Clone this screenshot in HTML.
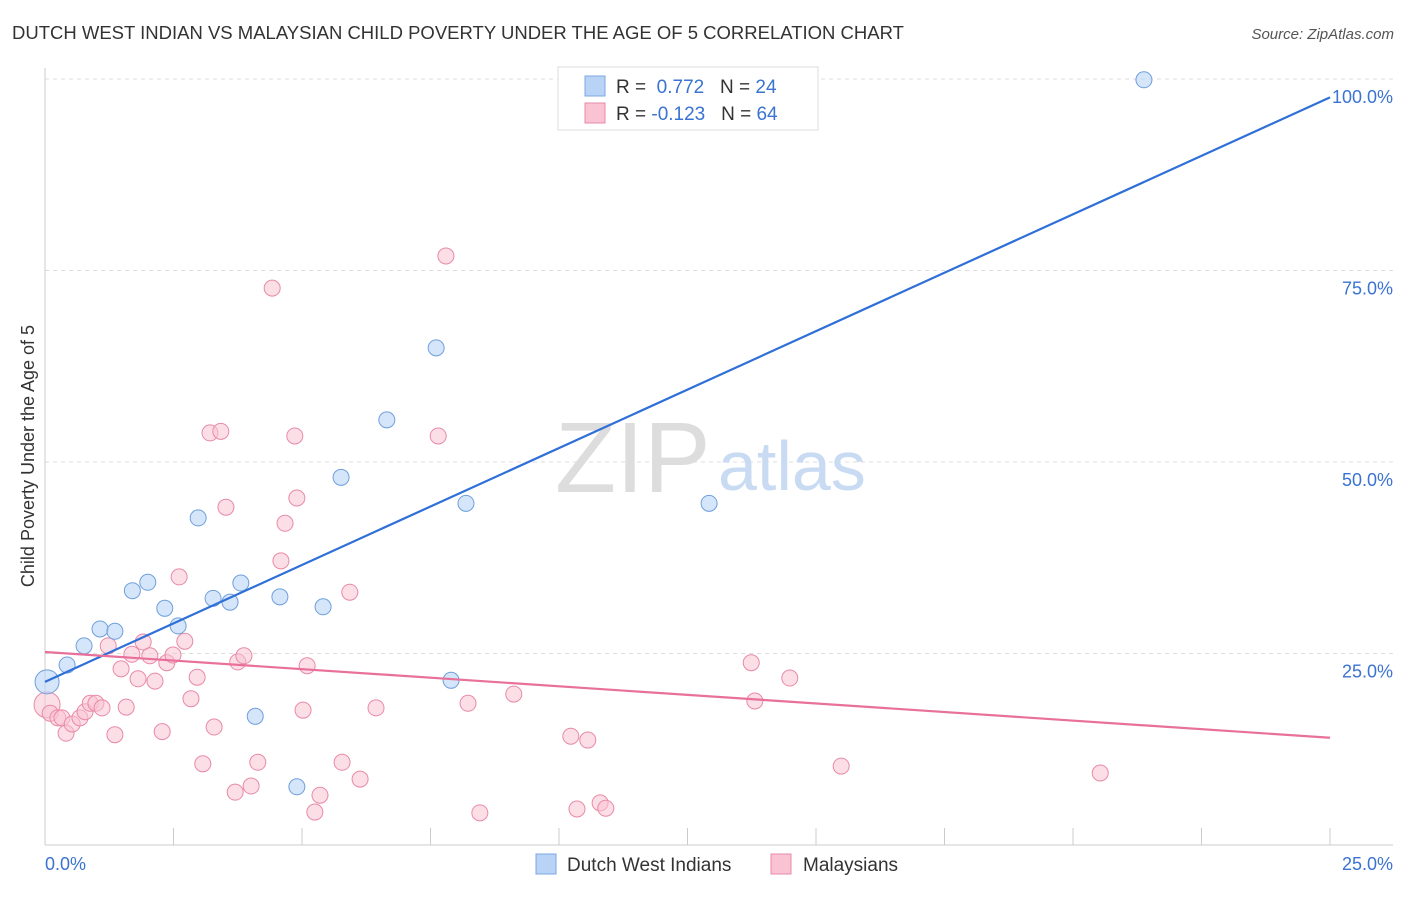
<!DOCTYPE html>
<html><head><meta charset="utf-8"><style>
body{margin:0;background:#fff;font-family:"Liberation Sans",sans-serif}
svg text{font-family:"Liberation Sans",sans-serif}
</style></head><body>
<svg id="c" width="1406" height="892" viewBox="0 0 1406 892" xmlns="http://www.w3.org/2000/svg">
<text x="12" y="39" font-size="18.5" fill="#333">DUTCH WEST INDIAN VS MALAYSIAN CHILD POVERTY UNDER THE AGE OF 5 CORRELATION CHART</text>
<text x="1394" y="39" font-size="15" fill="#555" text-anchor="end" font-style="italic">Source: ZipAtlas.com</text>
<text x="34" y="456" font-size="18" fill="#333" text-anchor="middle" transform="rotate(-90 34 456)">Child Poverty Under the Age of 5</text>
<g id="grid"></g>
<g id="ticks"></g>
<text x="555" y="492" font-size="100" fill="#ddd" font-family="Liberation Serif">ZIP</text>
<text x="718" y="490" font-size="70" fill="#c9dbf3">atlas</text>
<g id="pts"></g>
<g id="lines"></g>
<g>
<rect x="558" y="67" width="260" height="63" fill="#fff" stroke="#ddd"/>
<rect x="585" y="76" width="20" height="20" fill="#b9d3f6" stroke="#7ba7e0"/>
<rect x="585" y="103" width="20" height="20" fill="#f9c3d3" stroke="#e88aa8"/>
<text x="616" y="93" font-size="19" fill="#333">R = <tspan fill="#3a73d1">&#160;0.772</tspan>&#160;&#160;&#160;N = <tspan fill="#3a73d1">24</tspan></text>
<text x="616" y="120" font-size="19" fill="#333">R = <tspan fill="#3a73d1">-0.123</tspan>&#160;&#160;&#160;N = <tspan fill="#3a73d1">64</tspan></text>
</g>
<g>
<rect x="536" y="854" width="20" height="20" fill="#b9d3f6" stroke="#7ba7e0"/>
<text x="567" y="871" font-size="19" fill="#333">Dutch West Indians</text>
<rect x="771" y="854" width="20" height="20" fill="#f9c3d3" stroke="#e88aa8"/>
<text x="803" y="871" font-size="19" fill="#333">Malaysians</text>
</g>
</svg>
<script>
const xTickLabels=["0.0%","25.0%"];
const yTicks=[25,50,75,100];
const yTickLabels=["25.0%","50.0%","75.0%","100.0%"];
const blueX=[0.04,0.43,0.76,1.07,1.36,1.70,2.00,2.33,2.59,2.98,3.27,3.60,3.81,4.09,4.57,4.90,5.41,5.76,6.65,7.61,7.90,8.19,12.92,21.38];
const blueY=[21.3,23.5,26.0,28.2,27.9,33.2,34.3,30.9,28.6,42.7,32.2,31.7,34.2,16.8,32.4,7.6,31.1,48.0,55.5,64.9,21.5,44.6,44.6,99.9];
const pinkX=[0.04,0.10,0.25,0.33,0.41,0.53,0.68,0.78,0.88,0.99,1.11,1.23,1.36,1.48,1.58,1.69,1.81,1.91,2.04,2.14,2.28,2.37,2.49,2.61,2.72,2.84,2.96,3.07,3.21,3.29,3.42,3.52,3.70,3.75,3.87,4.01,4.14,4.42,4.59,4.67,4.86,4.90,5.02,5.10,5.25,5.35,5.78,5.93,6.13,6.44,7.65,7.80,8.23,8.46,9.12,10.23,10.35,10.56,10.80,10.91,13.74,13.81,14.49,15.49,20.53];
const pinkY=[18.3,17.2,16.6,16.6,14.6,15.8,16.6,17.4,18.5,18.5,17.9,26.0,14.4,23.0,18.0,24.9,21.7,26.5,24.7,21.4,14.8,23.8,24.8,35.0,26.6,19.1,21.9,10.6,53.8,15.4,54.0,44.1,6.9,23.9,24.7,7.7,10.8,72.7,37.1,42.0,53.4,45.3,17.6,23.4,4.3,6.5,10.8,33.0,8.6,17.9,53.4,76.9,18.5,4.2,19.7,14.2,4.7,13.7,5.5,4.8,23.8,18.8,21.8,10.3,9.4];
const blueTrend=[21.3,97.6];
const pinkTrend=[25.2,14.0];
const NS="http://www.w3.org/2000/svg";
const X=v=>45+v/25*1285, Y=v=>845-v*7.66;
function mk(t,a,p){const e=document.createElementNS(NS,t);for(const k in a)e.setAttribute(k,a[k]);p.appendChild(e);return e;}
const grid=document.getElementById('grid'),ticks=document.getElementById('ticks');
yTicks.forEach((v,i)=>{
 const l=mk('line',{x1:45,x2:1393,y1:Y(v),y2:Y(v),stroke:'#ddd','stroke-dasharray':'4 4'},grid);
 
 
 const t=mk('text',{x:1393,y:Y(v)+24,'font-size':18,fill:'#3a73d1','text-anchor':'end'},ticks);
 t.textContent=yTickLabels[i];
 
 
});
mk('line',{x1:45,x2:45,y1:68,y2:845,stroke:'#ccc'},grid);
mk('line',{x1:45,x2:1393,y1:845,y2:845,stroke:'#ccc'},grid);
for(let i=0;i<=10;i++){const l=mk('line',{x1:X(i*2.5),x2:X(i*2.5),y1:828,y2:845,stroke:'#ccc'},ticks);
 
 }
[[0,45,'start'],[1,1393,'end']].forEach(([i,x,a])=>{const t=mk('text',{x:x,y:870,'font-size':18,fill:'#3a73d1','text-anchor':a},ticks);t.textContent=xTickLabels[i];
 
 });
const pts=document.getElementById('pts');
pinkX.forEach((v,i)=>{const c=mk('circle',{cx:X(v),cy:Y(pinkY[i]),r:i==0?13:8,fill:'#f9c3d3','fill-opacity':0.55,stroke:'#e88aa8','stroke-width':1},pts);
 
 });
blueX.forEach((v,i)=>{const c=mk('circle',{cx:X(v),cy:Y(blueY[i]),r:i==0?12:8,fill:'#b9d3f6','fill-opacity':0.6,stroke:'#6f9fdc','stroke-width':1},pts);
 
 });
const lines=document.getElementById('lines');
const bl=mk('line',{x1:X(0),y1:Y(blueTrend[0]),x2:X(25),y2:Y(blueTrend[1]),stroke:'#2f6fd8','stroke-width':2.2},lines);


const pl=mk('line',{x1:X(0),y1:Y(pinkTrend[0]),x2:X(25),y2:Y(pinkTrend[1]),stroke:'#e8709a','stroke-width':2.2},lines);


</script>
</body></html>
